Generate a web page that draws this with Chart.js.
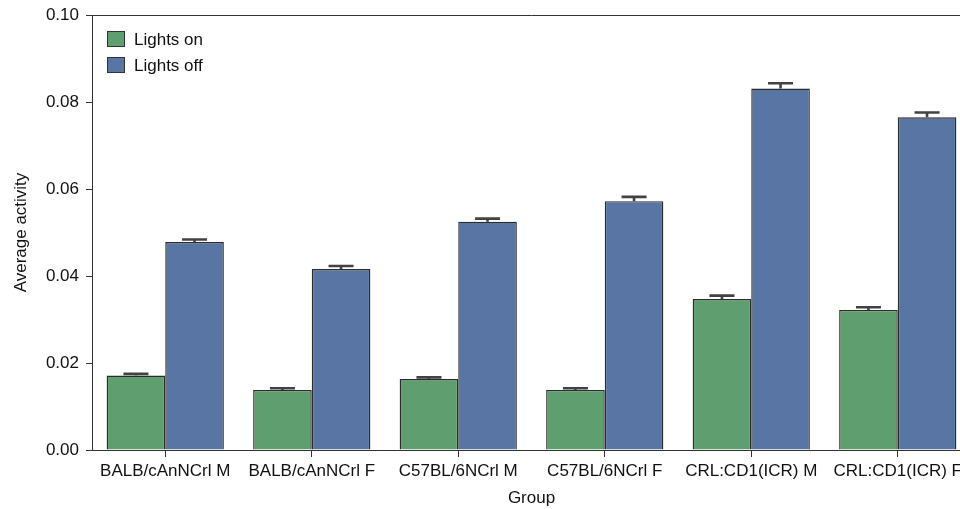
<!DOCTYPE html>
<html>
<head>
<meta charset="utf-8">
<style>
  html, body { margin: 0; padding: 0; background: #fff; overflow: hidden; }
  #wrap { width: 975px; height: 509px; }
</style>
<script src="https://cdn.jsdelivr.net/npm/chart.js@4/dist/chart.umd.min.js"></script>
</head>
<body>
<div id="wrap"><canvas id="c" width="975" height="509"></canvas></div>
<script>
// Groups (strain + sex)
const groups = ['BALB/cAnNCrl M', 'BALB/cAnNCrl F', 'C57BL/6NCrl M', 'C57BL/6NCrl F', 'CRL:CD1(ICR) M', 'CRL:CD1(ICR) F'];

// Mean activity per group
const lightsOn  = [0.0171, 0.0138, 0.0163, 0.0138, 0.0347, 0.0322];
const lightsOff = [0.0478, 0.0416, 0.0525, 0.0572, 0.0831, 0.0765];

// Error (upper half-width) per group
const lightsOnErr  = [0.0004, 0.0004, 0.0004, 0.0004, 0.0008, 0.0006];
const lightsOffErr = [0.0006, 0.0007, 0.0007, 0.0010, 0.0012, 0.0011];

// Y axis ticks
const yTicks = [0.00, 0.02, 0.04, 0.06, 0.08, 0.10];

const FONT = "'Liberation Sans', Arial, Helvetica, sans-serif";
const FONT_SIZE = 17;
const AXIS_COLOR = '#333333';
const TEXT_COLOR = '#111111';

// Error bars drawn above each bar
const errorBars = {
  id: 'errorBars',
  afterDatasetsDraw(chart) {
    const ctx = chart.ctx;
    const y = chart.scales.y;
    chart.data.datasets.forEach((ds, di) => {
      const meta = chart.getDatasetMeta(di);
      meta.data.forEach((bar, i) => {
        const v = ds.data[i];
        const e = ds.errors[i];
        const yTop = y.getPixelForValue(v + e);
        const yVal = y.getPixelForValue(v);
        ctx.save();
        ctx.strokeStyle = '#424242';
        ctx.lineWidth = 2.6;
        ctx.beginPath();
        ctx.moveTo(bar.x, yVal);
        ctx.lineTo(bar.x, yTop);
        ctx.moveTo(bar.x - 12.5, yTop);
        ctx.lineTo(bar.x + 12.5, yTop);
        ctx.stroke();
        ctx.restore();
      });
    });
  }
};

// Frame around plot area and legend inside top-left corner
const frameAndLegend = {
  id: 'frameAndLegend',
  afterDraw(chart) {
    const ctx = chart.ctx;
    const a = chart.chartArea;
    ctx.save();
    ctx.strokeStyle = AXIS_COLOR;
    ctx.lineWidth = 1;
    ctx.beginPath();
    ctx.moveTo(a.left, a.top + 0.5);
    ctx.lineTo(a.right, a.top + 0.5);
    ctx.moveTo(a.right - 0.5, a.top);
    ctx.lineTo(a.right - 0.5, a.bottom);
    ctx.stroke();

    // legend
    const x0 = a.left + 15;
    let yy = a.top + 16;
    ctx.font = FONT_SIZE + 'px ' + FONT;
    ctx.textBaseline = 'middle';
    chart.data.datasets.forEach((ds) => {
      ctx.fillStyle = ds.backgroundColor;
      ctx.fillRect(x0, yy, 18, 16);
      ctx.strokeStyle = '#333';
      ctx.lineWidth = 1;
      ctx.strokeRect(x0 + 0.5, yy + 0.5, 17, 15);
      ctx.fillStyle = TEXT_COLOR;
      ctx.fillText(ds.label, x0 + 27, yy + 9);
      yy += 26;
    });
    ctx.restore();
  }
};

new Chart(document.getElementById('c'), {
  type: 'bar',
  data: {
    labels: groups,
    datasets: [
      { label: 'Lights on', data: lightsOn, errors: lightsOnErr,
        backgroundColor: '#5f9e6e', borderColor: '#2b2b2b', borderWidth: 1.4,
        categoryPercentage: 0.8, barPercentage: 1.0 },
      { label: 'Lights off', data: lightsOff, errors: lightsOffErr,
        backgroundColor: '#5875a4', borderColor: '#2b2b2b', borderWidth: 1.4,
        categoryPercentage: 0.8, barPercentage: 1.0 }
    ]
  },
  options: {
    responsive: false,
    animation: false,
    layout: { padding: { top: 15, right: 4, left: 0, bottom: 0 } },
    plugins: { legend: { display: false }, tooltip: { enabled: false } },
    scales: {
      x: {
        offset: true,
        grid: { display: true, drawOnChartArea: false, drawTicks: true, tickLength: 7, color: AXIS_COLOR, offset: false },
        border: { color: AXIS_COLOR, width: 1 },
        ticks: { color: TEXT_COLOR, font: { family: FONT, size: FONT_SIZE }, padding: 4, maxRotation: 0, autoSkip: false },
        title: { display: true, text: 'Group', color: TEXT_COLOR, font: { family: FONT, size: FONT_SIZE }, padding: { top: 4, bottom: 0 } },
        afterFit(s) { s.height = 59; }
      },
      y: {
        min: 0, max: 0.10,
        afterBuildTicks(s) { s.ticks = yTicks.map(v => ({ value: v })); },
        grid: { display: true, drawOnChartArea: false, drawTicks: true, tickLength: 6, color: AXIS_COLOR },
        border: { color: AXIS_COLOR, width: 1 },
        ticks: { color: TEXT_COLOR, font: { family: FONT, size: FONT_SIZE }, padding: 7, callback: v => v.toFixed(2) },
        title: { display: true, text: 'Average activity', color: TEXT_COLOR, font: { family: FONT, size: FONT_SIZE }, padding: { top: 11, bottom: 4 } },
        afterFit(s) { s.width = 92; s.paddingTop = 0; s.paddingBottom = 0; }
      }
    }
  },
  plugins: [errorBars, frameAndLegend]
});
</script>
</body>
</html>
